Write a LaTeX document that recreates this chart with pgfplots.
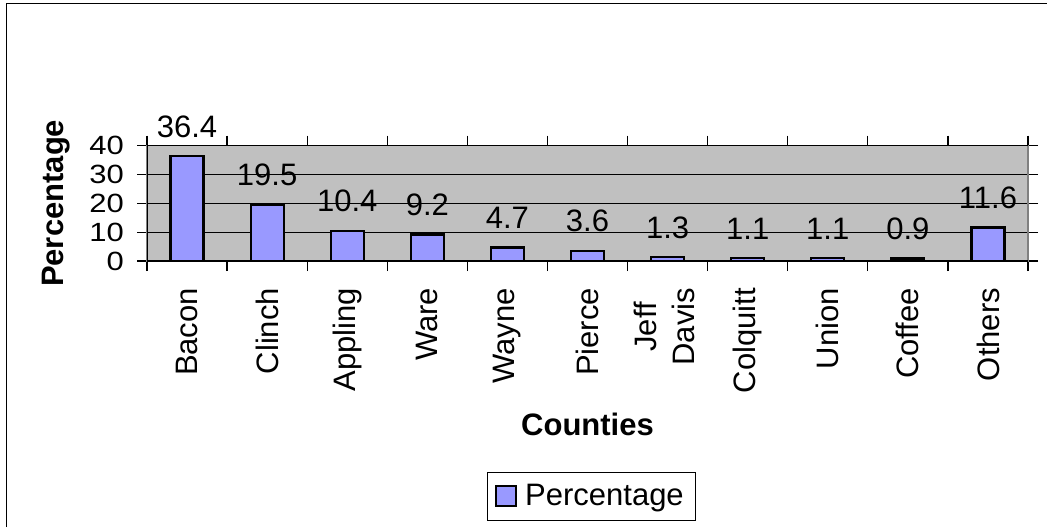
\documentclass[border=0pt]{standalone}
\usepackage{fontspec}
\setmainfont{Liberation Sans}
\usepackage{pgfplots}
\pgfplotsset{compat=1.18}
\definecolor{barblue}{HTML}{9999FF}
\definecolor{bggray}{HTML}{C0C0C0}
\definecolor{edgegray}{HTML}{808080}
\newcommand\ff{\fontsize{15.5}{19}\selectfont}
\begin{document}
\begin{tikzpicture}
\useasboundingbox (0,0) rectangle (523.5pt,263.5pt);
\draw[line width=0.6pt] (3.25pt,0) -- (3.25pt,261.6pt) -- (523.5pt,261.6pt);
\begin{axis}[
  at={(73.5pt,133pt)}, anchor=south west,
  scale only axis, width=440.5pt, height=57.65pt,
  xmin=0, xmax=11, ymin=0, ymax=40,
  ytick={0,10,20,30,40},
  xtick={0.5,1.5,2.5,3.5,4.5,5.5,6.5,7.5,8.5,9.5,10.5},
  xticklabels={Bacon,Clinch,Appling,Ware,Wayne,Pierce,{\begin{tabular}{@{}c@{}}Jeff\\Davis\end{tabular}},Colquitt,Union,Coffee,Others},
  minor xtick={0,1,2,3,4,5,6,7,8,9,10,11},
  tick align=outside, major tick length=5pt, minor tick length=5pt,
  every major x tick/.append style={draw=none},
  tick style={black, line width=0.6pt},
  ymajorgrids, grid style={black, line width=0.6pt},
  axis background/.style={fill=bggray},
  axis line style={draw=edgegray, line width=0.6pt},
  /pgf/number format/assume math mode=true,
  xticklabel style={font=\ff, rotate=90, anchor=east, xshift=-5pt},
  yticklabel style={font=\ff, yscale=0.85, anchor=east, xshift=-3pt},
  ylabel={\bfseries Percentage},
  ylabel style={font=\ff, at={(axis description cs:-0.1033,0.5)}, anchor=center},
  xlabel={\bfseries Counties},
  xlabel style={font=\ff, at={(axis description cs:0.5,0)}, yshift=-81.5pt, anchor=center},
  legend style={at={(0.5045,-2.042)}, anchor=center, draw=black, line width=0.6pt, font=\ff, inner xsep=4pt, inner ysep=4pt},
  legend image code/.code={\draw[fill=barblue,draw=black,line width=1pt] (0pt,-5pt) rectangle (10pt,5pt);},
]
\addplot[ybar, bar width=16.5pt, fill=barblue, draw=black, line width=1.1pt,
  nodes near coords, nodes near coords style={font=\ff, anchor=south, yshift=5.5pt, black}]
  coordinates {(0.5,36.4) (1.5,19.5) (2.5,10.4) (3.5,9.2) (4.5,4.7) (5.5,3.6) (6.5,1.3) (7.5,1.1) (8.5,1.1) (9.5,0.9) (10.5,11.6)};
\addlegendentry{\hspace{2pt}Percentage\hspace{13pt}}
\draw[black, line width=0.6pt] (rel axis cs:1,1) -- (rel axis cs:0,1) -- (rel axis cs:0,0) -- (rel axis cs:1,0);
\end{axis}
\end{tikzpicture}
\end{document}
